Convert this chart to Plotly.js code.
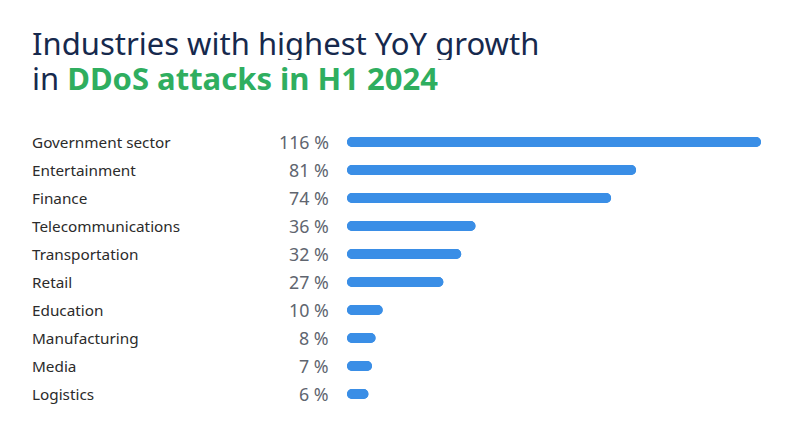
<!DOCTYPE html>
<html><head><meta charset="utf-8">
<script src="https://cdn.plot.ly/plotly-3.0.1.min.js"></script>
<style>html,body{margin:0;padding:0;background:#fff}#chart{width:793px;height:428px}</style>
</head><body><div id="chart"></div>
<script>
const categories = ["Government sector","Entertainment","Finance","Telecommunications","Transportation","Retail","Education","Manufacturing","Media","Logistics"];
const values = [116,81,74,36,32,27,10,8,7,6];
const valueLabels = ["116 %","81 %","74 %","36 %","32 %","27 %","10 %","8 %","7 %","6 %"];
const titleLine1 = "Industries with highest YoY growth";
const titleLine2a = "in ";
const titleLine2b = "DDoS attacks in H1 2024";

const BLUE = "#3a8ee6";
const FONT = "Noto Sans, Open Sans, sans-serif";
const common = {type:"bar", orientation:"h", y:categories, width:0.36,
  marker:{color:BLUE, cornerradius:5}, hoverinfo:"skip", showlegend:false};
const traces = [
  Object.assign({}, common, {base:0, x:values}),
  Object.assign({}, common, {base:values, x:values.map(v => -v)})
];

const annotations = [];
categories.forEach((c,i) => {
  annotations.push({xref:"paper", yref:"y", x:-0.766, y:c, text:c, showarrow:false,
    xanchor:"left", yanchor:"middle", font:{family:FONT, size:15.3, color:"#2b2b2b"}});
  annotations.push({xref:"paper", yref:"y", x:-0.038, y:c, text:valueLabels[i], showarrow:false,
    xanchor:"right", yanchor:"middle", font:{family:FONT, size:17.8, color:"#60656f"}});
});
annotations.push({xref:"paper", yref:"paper", x:-0.766, y:1.304, text:titleLine1, showarrow:false,
  xanchor:"left", yanchor:"middle", height:34, valign:"middle", font:{family:FONT, size:31, color:"#16294d"}});
annotations.push({xref:"paper", yref:"paper", x:-0.766, y:1.179,
  text:titleLine2a + "<b><span style='color:#2fae5f'>" + titleLine2b + "</span></b>", showarrow:false,
  xanchor:"left", yanchor:"middle", height:34, valign:"middle", font:{family:FONT, size:31, color:"#16294d"}});

const layout = {
  width:793, height:428,
  margin:{l:347, r:32, t:128, b:20},
  paper_bgcolor:"#fff", plot_bgcolor:"#fff",
  barmode:"overlay",
  xaxis:{range:[0,116], visible:false, fixedrange:true},
  yaxis:{type:"category", autorange:"reversed", visible:false, fixedrange:true},
  annotations:annotations
};
Plotly.newPlot("chart", traces, layout, {displayModeBar:false, staticPlot:true});
</script></body></html>
